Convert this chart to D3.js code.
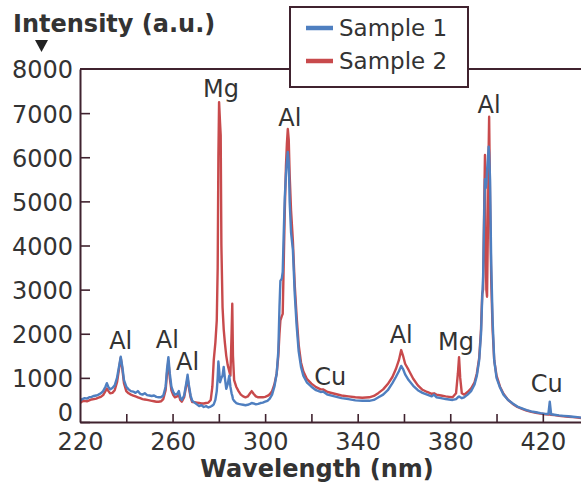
<!DOCTYPE html>
<html><head><meta charset="utf-8">
<script src="https://cdn.jsdelivr.net/npm/d3@7"></script>
<style>
html,body{margin:0;padding:0;background:#fff;}
text{font-family:"DejaVu Sans",sans-serif;fill:#333;}
</style></head>
<body><svg id="chart" width="581" height="488"></svg>
<script>
// ---- data ----
const wavelength = [220,221,222,223,224,225,226,227,228,229,230,231,231.6,232.3,233,234,235,236,237,237.6,238.3,239,240,241,242,243,244,245,246,247,248,249,250,251,252,253,254,255,256,257,257.6,258.2,258.8,259.5,260.3,261,262,262.7,263.3,264,265,266,266.5,267,267.8,268.5,269.5,270.5,271.5,272.5,273.5,274.5,275.5,276.5,277.2,277.8,278.5,279.1,279.5,279.8,280.1,280.5,280.8,281.1,281.6,282.1,282.6,283.2,283.8,284.5,285,285.5,285.8,286.1,286.6,287.5,288.5,289.5,290.5,291.5,292.5,293.5,294.2,295,296,297,298,299,300,301,302,303,304,305,305.7,306.2,306.6,307.2,307.6,308,308.5,309,309.4,309.8,310.2,310.6,311.2,312,312.8,313.6,314.5,315.5,316.5,318,320,322,324,325,327,330,333,336,339,342,345,347,349,351,353,355,356.5,357.8,358.8,359.6,360.5,362,364,366,368,370,372,373,374,376,378,379.5,381,382.5,383.3,383.8,384.3,385,386,387.5,389,390.5,391.5,392.5,393.3,393.8,394.2,394.7,395,395.3,395.6,395.9,396.3,396.6,396.8,397.2,397.7,398.3,399,400,401.5,403,405,407,409,411,413,415,417,419,421,422.4,423,423.6,425,427,429,431,433,435,436.5];
const sample1 = [480,520,540,530,560,570,590,600,620,650,700,800,880,790,740,770,830,1000,1300,1480,1250,950,800,740,700,690,660,700,640,620,650,610,600,590,600,570,560,560,600,800,1200,1470,1100,800,680,620,640,700,560,500,600,900,1070,850,600,480,440,400,360,380,340,360,330,350,370,400,500,700,1000,1370,1200,900,950,1000,1050,1250,1000,750,850,1050,800,650,600,520,480,430,410,400,390,380,390,410,430,420,400,410,430,440,460,480,530,620,800,1100,1600,2600,3200,3250,3400,4200,5100,5600,5900,6120,5900,5000,4300,3900,2900,2200,1600,1250,1050,900,800,720,680,690,620,580,540,520,490,480,480,500,560,620,720,880,1020,1150,1270,1200,1080,950,820,720,660,620,580,620,560,540,520,510,500,520,560,580,560,540,560,620,700,850,1050,1400,2000,2800,3300,4800,5500,5300,5400,5700,6000,6240,6100,5500,3600,2300,1400,1000,780,620,500,420,350,310,270,240,220,200,185,180,460,175,165,150,140,130,120,110,100];
const sample2 = [430,470,480,470,490,510,520,530,550,570,610,700,760,700,650,660,720,900,1250,1450,1200,880,700,650,620,600,580,560,540,520,510,500,490,480,470,460,460,470,520,720,1100,1380,1000,720,610,560,580,620,500,460,560,850,1000,800,560,450,450,440,430,420,420,430,440,500,800,1400,1800,2300,3500,6000,7250,6800,6500,4000,2600,2100,1800,1500,1300,1150,1050,2000,2680,1500,950,800,700,620,580,560,580,650,700,640,580,560,560,560,570,590,630,700,850,1100,1500,2000,2300,2400,2450,3500,4800,5800,6300,6640,6400,5600,4800,4100,3100,2400,1750,1350,1150,980,870,790,740,740,680,640,600,580,560,550,560,590,660,740,860,1020,1200,1400,1630,1500,1320,1180,980,830,730,680,640,650,620,600,580,570,560,650,1100,1470,1000,650,620,680,760,900,1100,1450,2100,2900,3000,5000,6050,4000,3000,2840,4500,6200,6920,5000,3200,2100,1400,1050,800,640,500,410,340,300,260,230,210,190,175,170,170,165,155,140,130,120,110,100,90];
const yTicks = [0,1000,2000,3000,4000,5000,6000,7000,8000];
const xTicks = [220,240,260,280,300,320,340,360,380,400,420];
const xTickLabels = [220,260,300,340,380,420];
const peakLabels = [
  {text:"Mg", wl:280.1, v:7250},
  {text:"Al", wl:309.8, v:6640},
  {text:"Al", wl:237.6, v:1480},
  {text:"Al", wl:258.2, v:1470},
  {text:"Al", wl:266.5, v:1070},
  {text:"Cu", wl:324.7, v:740},
  {text:"Al", wl:358.8, v:1630},
  {text:"Mg", wl:383.8, v:1470},
  {text:"Al", wl:396.8, v:6920},
  {text:"Cu", wl:423, v:460}
];
const seriesNames = ["Sample 1","Sample 2"];
const seriesColors = ["#4f7fc0","#c84a4c"];

// ---- drawing ----
const svg = d3.select("#chart");
const x = d3.scaleLinear().domain([220,436.5]).range([80,581]);
const y = d3.scaleLinear().domain([0,8000]).range([422,69]);
const frame = "#40232f";

svg.append("defs").append("clipPath").attr("id","clip")
  .append("rect").attr("x",80).attr("y",60).attr("width",501).attr("height",362);

const line = d3.line().x(d=>x(d[0])).y(d=>y(d[1]));
const g = svg.append("g").attr("clip-path","url(#clip)");
[sample2, sample1].forEach((s,i)=>{
  const idx = i===0 ? 1 : 0;
  g.append("path")
    .datum(wavelength.map((w,k)=>[w,s[k]]))
    .attr("d",line).attr("fill","none")
    .attr("stroke",seriesColors[idx]).attr("stroke-width",2.4)
    .attr("stroke-linejoin","round");
});

// axes
const yAxis = svg.append("g").attr("transform","translate(80,0)")
  .call(d3.axisLeft(y).tickValues(yTicks).tickFormat(d3.format("d")).tickSize(-10).tickSizeOuter(0).tickPadding(7));
const xAxis = svg.append("g").attr("transform","translate(0,422)")
  .call(d3.axisBottom(x).tickValues(xTicks).tickSize(-8).tickSizeOuter(0).tickPadding(11)
    .tickFormat(d=>xTickLabels.includes(d)?d:""));
[yAxis,xAxis].forEach(a=>{
  a.select(".domain").attr("stroke",frame).attr("stroke-width",2);
  a.selectAll(".tick line").attr("stroke",frame).attr("stroke-width",1.6);
  a.selectAll("text").style("font-size","24px").attr("fill","#333");
});
yAxis.selectAll(".tick").filter(d=>d===8000).select("line").remove();
yAxis.selectAll(".tick").filter(d=>d===0).select("text").attr("dy","-0.05em");
yAxis.selectAll(".tick text").filter(d=>d!==0).attr("dy","0.37em");
xAxis.selectAll(".tick").filter(d=>d===220).select("line").remove();

// top frame line
svg.append("line").attr("x1",80).attr("x2",581).attr("y1",y(8000)).attr("y2",y(8000))
  .attr("stroke",frame).attr("stroke-width",2);

// axis titles
svg.append("text").attr("x",13).attr("y",32).style("font-size","24px").style("font-weight","bold")
  .attr("fill","#222").text("Intensity (a.u.)");
svg.append("path").attr("d","M35,40 L48,40 L41.5,52 Z").attr("fill","#222");
svg.append("text").attr("x",317).attr("y",477).attr("text-anchor","middle")
  .style("font-size","24px").style("font-weight","bold").attr("fill","#222").text("Wavelength (nm)");

// peak labels
const offsets = [[2,-5],[2,-3],[0,-8],[-1,-9],[0,-5],[8,-4],[0,-7],[-3,-7],[0,-4],[-3,-10]];
peakLabels.forEach((p,i)=>{
  svg.append("text").attr("x",x(p.wl)+offsets[i][0]).attr("y",y(p.v)+offsets[i][1])
    .attr("text-anchor","middle").style("font-size","24px").attr("fill","#333").text(p.text);
});

// legend
const lg = svg.append("g");
lg.append("rect").attr("x",290).attr("y",7).attr("width",178).attr("height",80)
  .attr("fill","#fff").attr("stroke",frame).attr("stroke-width",2);
seriesNames.forEach((n,i)=>{
  const yy = 28 + i*33;
  lg.append("line").attr("x1",306).attr("x2",333).attr("y1",yy).attr("y2",yy)
    .attr("stroke",seriesColors[i]).attr("stroke-width",4.5);
  lg.append("text").attr("x",339).attr("y",yy+8).style("font-size","23px").attr("fill","#333").text(n);
});
</script></body></html>
